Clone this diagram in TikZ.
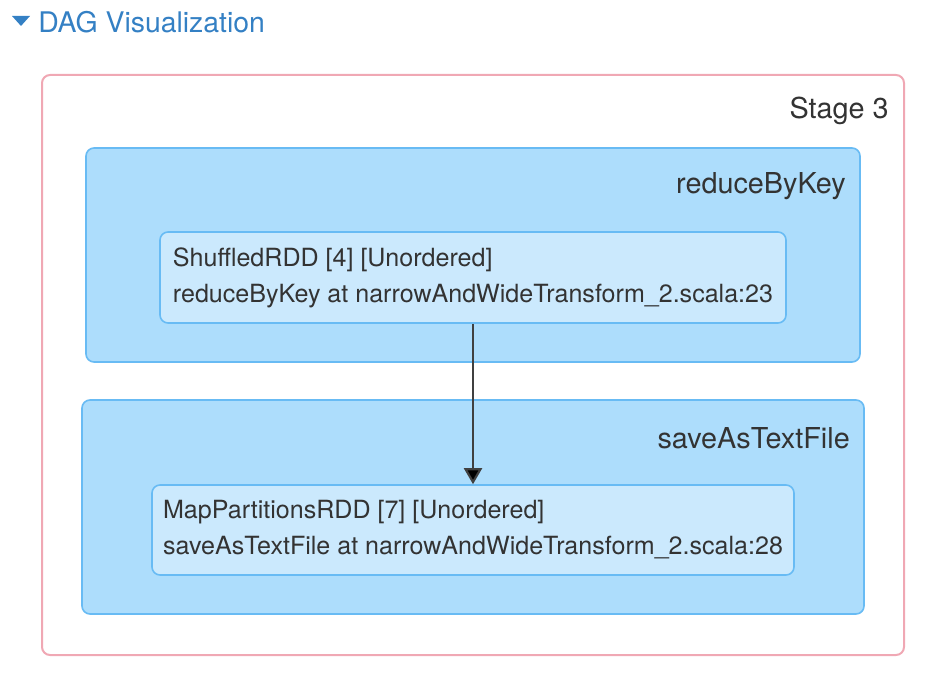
\documentclass[tikz,border=0pt]{standalone}
\usepackage{fontspec}
\setmainfont{TeX Gyre Heros}
\usepackage{tikz}
\usetikzlibrary{arrows.meta}
\definecolor{stageline}{RGB}{240,168,180}
\definecolor{clusterfill}{RGB}{173,221,252}
\definecolor{clusterline}{RGB}{104,187,244}
\definecolor{rddfill}{RGB}{203,233,253}
\definecolor{titleblue}{RGB}{52,128,196}
\definecolor{textgray}{RGB}{51,51,51}
\newcommand{\rddtext}[2]{#1\\#2}

\begin{document}
\begin{tikzpicture}[x=0.75pt,y=-0.75pt,
  stage/.style={draw=stageline,line width=1.5pt,fill=white,rounded corners=6pt},
  cluster/.style={draw=clusterline,line width=1.2pt,fill=clusterfill,rounded corners=6pt},
  rdd/.style={draw=clusterline,line width=1.2pt,fill=rddfill,rounded corners=6pt,
    align=left,anchor=center,inner sep=4pt,text=textgray,
    font=\fontsize{18.8}{27}\selectfont},
  label/.style={anchor=east,text=textgray,font=\fontsize{21.6}{24}\selectfont,inner sep=0pt}]
\useasboundingbox (0,0) rectangle (944,688);

% title
\fill[titleblue] (12,16) -- (30,16) -- (21,26) -- cycle;
\node[anchor=west,text=titleblue,inner sep=0pt,font=\fontsize{21.3}{24}\selectfont] (title) at (38,22) {DAG Visualization};

% stage
\draw[stage] (42,75) rectangle (904,655);
\node[label] (stage label) at (889,111) {Stage 3};

% reduceByKey
\draw[cluster] (86,148) rectangle (860,362);
\node[label] (reduce label) at (846,186) {reduceByKey};

% saveAsTextFile
\draw[cluster] (82,400) rectangle (864,614);
\node[label] (save label) at (850,438) {saveAsTextFile};

% rdds
\node[rdd,minimum width=469.5pt,minimum height=68.25pt] (shuffled) at (473,277.5)
  {\rddtext{ShuffledRDD [4] [Unordered]}{reduceByKey at narrowAndWideTransform\_2.scala:23}};
\node[rdd,minimum width=481.5pt,minimum height=67.5pt] (mappart) at (473,530)
  {\rddtext{MapPartitionsRDD [7] [Unordered]}{saveAsTextFile at narrowAndWideTransform\_2.scala:28}};

% edge
\draw[draw=black!75,line width=1.6pt,-{Triangle[width=13.5pt,length=12pt,fill=black]}] (shuffled) -- (mappart);

\end{tikzpicture}
\end{document}
